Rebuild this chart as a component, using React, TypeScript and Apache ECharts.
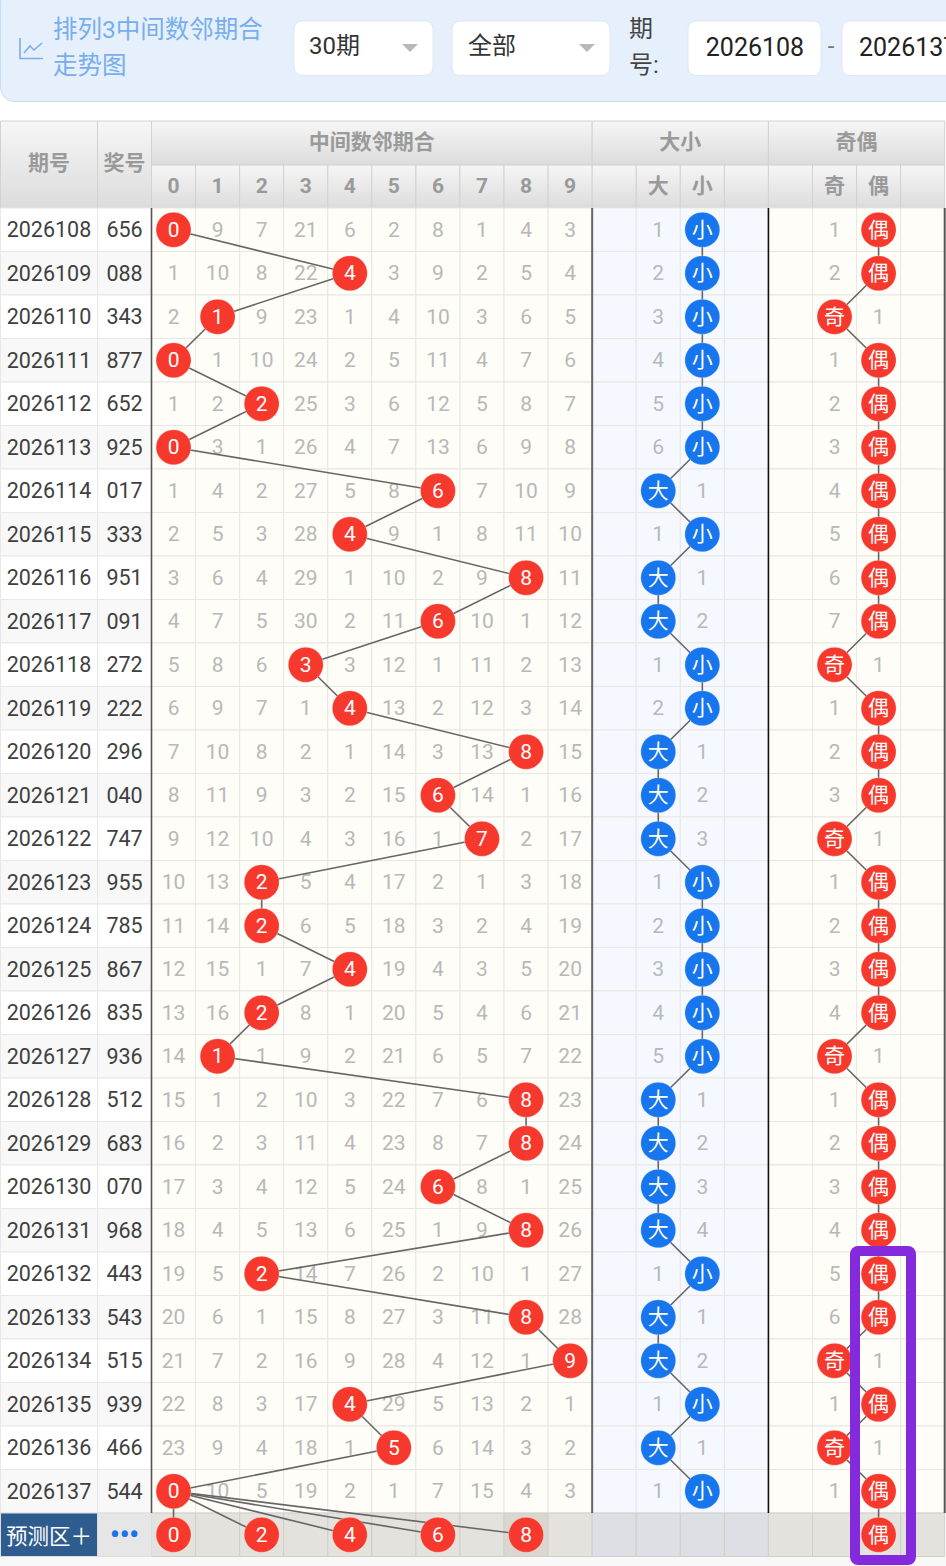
import React, { useEffect, useRef } from "react";
import * as echarts from "echarts";

const periods = ["2026108","2026109","2026110","2026111","2026112","2026113","2026114","2026115","2026116","2026117","2026118","2026119","2026120","2026121","2026122","2026123","2026124","2026125","2026126","2026127","2026128","2026129","2026130","2026131","2026132","2026133","2026134","2026135","2026136","2026137"];
const awards = ["656","088","343","877","652","925","017","333","951","091","272","222","296","040","747","955","785","867","835","936","512","683","070","968","443","543","515","939","466","544"];
const hitDigits = [0,4,1,0,2,0,6,4,8,6,3,4,8,6,7,2,2,4,2,1,8,8,6,8,2,8,9,4,5,0];
const missRows = [
  [0,9,7,21,6,2,8,1,4,3],[1,10,8,22,0,3,9,2,5,4],[2,0,9,23,1,4,10,3,6,5],[0,1,10,24,2,5,11,4,7,6],
  [1,2,0,25,3,6,12,5,8,7],[0,3,1,26,4,7,13,6,9,8],[1,4,2,27,5,8,0,7,10,9],[2,5,3,28,0,9,1,8,11,10],
  [3,6,4,29,1,10,2,9,0,11],[4,7,5,30,2,11,0,10,1,12],[5,8,6,0,3,12,1,11,2,13],[6,9,7,1,0,13,2,12,3,14],
  [7,10,8,2,1,14,3,13,0,15],[8,11,9,3,2,15,0,14,1,16],[9,12,10,4,3,16,1,0,2,17],[10,13,0,5,4,17,2,1,3,18],
  [11,14,0,6,5,18,3,2,4,19],[12,15,1,7,0,19,4,3,5,20],[13,16,0,8,1,20,5,4,6,21],[14,0,1,9,2,21,6,5,7,22],
  [15,1,2,10,3,22,7,6,0,23],[16,2,3,11,4,23,8,7,0,24],[17,3,4,12,5,24,0,8,1,25],[18,4,5,13,6,25,1,9,0,26],
  [19,5,0,14,7,26,2,10,1,27],[20,6,1,15,8,27,3,11,0,28],[21,7,2,16,9,28,4,12,1,0],[22,8,3,17,0,29,5,13,2,1],
  [23,9,4,18,1,0,6,14,3,2],[0,10,5,19,2,1,7,15,4,3],
];
const sizeHits = ["小","小","小","小","小","小","大","小","大","大","小","小","大","大","大","小","小","小","小","小","大","大","大","大","小","大","大","小","大","小"];
const sizeMiss = [1,2,3,4,5,6,1,1,1,2,1,2,1,2,3,1,2,3,4,5,1,2,3,4,1,1,2,1,1,1];
const parityHits = ["偶","偶","奇","偶","偶","偶","偶","偶","偶","偶","奇","偶","偶","偶","奇","偶","偶","偶","偶","奇","偶","偶","偶","偶","偶","偶","奇","偶","奇","偶"];
const parityMiss = [1,2,1,1,2,3,4,5,6,7,1,1,2,3,1,1,2,3,4,1,1,2,3,4,5,6,1,1,1,1];
const predictedDigits = [0,2,4,6,8];
const predictedParity = "偶";
const columnLabels = ["0","1","2","3","4","5","6","7","8","9","","大","小","","","奇","偶",""];

const FONT = "Roboto, 'Noto Sans CJK SC', sans-serif";
const CJK = "'Noto Sans CJK SC', Roboto, sans-serif";
const GX = 151.5, GY = 208, GW = 793.2, GH = 1348.5;
const RED = "#f7382c", BLUE = "#1776ee";
const SIZE_COL: any = { "大": 11, "小": 12 };
const PARITY_COL: any = { "奇": 15, "偶": 16 };
const PRED_ROW = periods.length;

const grayGrad = () => new echarts.graphic.LinearGradient(0, 0, 0, 1, [
  { offset: 0, color: "#f6f6f6" }, { offset: 1, color: "#dcdcdc" },
]);

function headerGraphics() {
  const els: any[] = [];
  const cw = GW / 18;
  const cell = (x: number, y: number, w: number, h: number, text?: string) => {
    els.push({ type: "rect", z: -1, shape: { x, y, width: w, height: h }, style: { fill: grayGrad(), stroke: "#d2d2d2", lineWidth: 1 } });
    if (text) els.push({ type: "text", z: 1, style: { text, x: x + w / 2, y: y + h / 2 - 3.5, align: "center", verticalAlign: "middle", fill: "#9a9a9a", font: `bold 21px ${CJK}` } });
  };
  cell(0.5, 121, 97, 87, "期号");
  cell(97.5, 121, 54, 87, "奖号");
  cell(GX, 121, cw * 10, 44, "中间数邻期合");
  cell(GX + cw * 10, 121, cw * 4, 44, "大小");
  cell(GX + cw * 14, 121, cw * 4, 44, "奇偶");
  for (let i = 0; i < 18; i++) cell(GX + cw * i, 165, cw, 43);
  return els;
}

function toolbarGraphics() {
  const blue = "#78aeec";
  const box = (x: number, w: number) => ({ type: "rect", shape: { x, y: 21, width: w, height: 54.5, r: 8 }, style: { fill: "#fff", stroke: "#dfe7f1", lineWidth: 1 } });
  const t = (text: string, x: number, y: number, fill: string, size: number, align = "left") => ({ type: "text", style: { text, x, y, fill, align, verticalAlign: "middle", font: `${size}px ${FONT}` } });
  const tri = (x: number) => ({ type: "polygon", shape: { points: [[x, 44], [x + 16, 44], [x + 8, 52]] }, style: { fill: "#b8b8b8" } });
  return [
    { type: "rect", shape: { x: 0.5, y: -12, width: 960, height: 113.5, r: 14 }, style: { fill: "#e6f0fd", stroke: "#cadcf2", lineWidth: 1 } },
    { type: "polyline", shape: { points: [[20, 38], [20, 58.5], [43, 58.5]] }, style: { stroke: blue, fill: "none", lineWidth: 1.6 } },
    { type: "polyline", shape: { points: [[24, 53], [30, 46], [34, 50], [42, 43]] }, style: { stroke: blue, fill: "none", lineWidth: 1.6 } },
    t("排列3中间数邻期合", 53, 29, blue, 24.5),
    t("走势图", 53, 65, blue, 24.5),
    box(294, 139), t("30期", 309, 46, "#333", 24), tri(402),
    box(452, 158), t("全部", 468, 46, "#333", 24), tri(579),
    t("期", 629, 29, "#444", 24), t("号:", 629, 65, "#444", 24),
    box(688, 133), t("2026108", 755, 47, "#222", 25, "center"),
    t("-", 831, 46, "#777", 24, "center"),
    { ...box(842, 130) }, t("2026137", 859, 47, "#222", 25),
  ];
}

export default function App() {
  const ref = useRef<HTMLDivElement>(null);
  useEffect(() => {
    const chart = echarts.init(ref.current!, undefined, { renderer: "svg" });

    const cells: number[][] = [];
    for (let r = 0; r <= PRED_ROW; r++) for (let c = 0; c < 18; c++) cells.push([c, r]);

    const missData: any[] = [];
    missRows.forEach((vals, r) => vals.forEach((v, c) => { if (v !== 0) missData.push([c, r, v]); }));
    sizeHits.forEach((h, r) => missData.push([h === "大" ? 12 : 11, r, sizeMiss[r]]));
    parityHits.forEach((h, r) => missData.push([h === "奇" ? 16 : 15, r, parityMiss[r]]));

    const digitTrail = hitDigits.map((d, r) => [d, r]);
    const sizeTrail = sizeHits.map((h, r) => [SIZE_COL[h], r]);
    const parityTrail = [...parityHits, predictedParity].map((h, r) => [PARITY_COL[h], r]);
    const lineSeries = (data: number[][]) => ({
      type: "line", data, z: 3, symbol: "none", showSymbol: false, clip: false, silent: true,
      lineStyle: { color: "#666", width: 1.6 },
    });
    const ball = (data: any[], color: string, size: number) => ({
      type: "scatter", data, z: 4, symbolSize: 35, clip: false, silent: true,
      itemStyle: { color, opacity: 1, borderColor: "rgba(255,255,255,0.5)", borderWidth: 0.6 },
      label: { show: true, position: "inside", formatter: (p: any) => String(p.value[2]), color: "#fff", fontSize: size, fontFamily: FONT },
    });

    const sectionEdges = [
      { col: 0, color: "#555", width: 1.6 }, { col: 10, color: "#666", width: 2 },
      { col: 14, color: "#111", width: 1.6 }, { col: 18, color: "#555", width: 2 },
    ];

    chart.setOption({
      animation: false,
      backgroundColor: "#ffffff",
      grid: { left: GX, top: GY, width: GW, height: GH, containLabel: false, outerBoundsMode: "none", show: false },
      xAxis: {
        type: "category", position: "top", data: columnLabels, z: 5,
        axisLine: { show: false }, axisTick: { show: false }, splitLine: { show: false },
        axisLabel: { interval: 0, margin: 22, verticalAlign: "middle", color: "#9a9a9a", fontWeight: "bold", fontSize: 21, fontFamily: FONT },
      },
      yAxis: [
        {
          type: "category", inverse: true, position: "left", z: 5,
          data: [...periods, { value: "预测区＋", textStyle: { color: "#fff", fontFamily: CJK, align: "center", fontSize: 21.5 } }],
          axisLine: { show: false }, axisTick: { show: false }, splitLine: { show: false },
          axisLabel: { interval: 0, margin: 102.5, align: "center", color: "#3f3f3f", fontSize: 21.5, fontFamily: FONT },
        },
        {
          type: "category", inverse: true, position: "left", z: 5,
          data: [...awards, { value: "•••", textStyle: { color: "#1e72e8", fontWeight: "bold", align: "center", fontSize: 27 } }],
          axisLine: { show: false }, axisTick: { show: false }, splitLine: { show: false },
          axisLabel: { interval: 0, margin: 27, align: "center", color: "#3f3f3f", fontSize: 21.5, fontFamily: FONT },
        },
      ],
      graphic: { elements: [
        { type: "rect", z: -2, shape: { x: 0, y: 1556.7, width: 946, height: 10 }, style: { fill: "#f8f8f8" } },
        ...toolbarGraphics(),
        ...headerGraphics(),
        { type: "rect", z: 20, shape: { x: 855, y: 1251, width: 56, height: 309, r: 3 }, style: { fill: "none", stroke: "#8429dc", lineWidth: 10 } },
      ] },
      series: [
        {
          type: "custom", z: 0, silent: true, data: cells, encode: { x: 0, y: 1 },
          renderItem: (_: any, api: any) => {
            const c = api.value(0), r = api.value(1);
            const p = api.coord([c, r]), s = api.size([1, 1]);
            const blueBand = c >= 10 && c <= 13;
            const fill = r === PRED_ROW ? (blueBand ? "#dcdfe3" : c === 8 ? "#d9d7d0" : "#e4e2dc") : blueBand ? "#f5f9ff" : "#fffdf7";
            return { type: "rect", shape: { x: p[0] - s[0] / 2, y: p[1] - s[1] / 2, width: s[0], height: s[1] }, style: { fill, stroke: r === PRED_ROW ? "#cfcfcb" : "#e9e7e2", lineWidth: 1 } };
          },
        },
        {
          type: "custom", z: 0, silent: true, data: [...periods, "pred"].map((_, r) => [0, r]), encode: { x: 0, y: 1 }, clip: false,
          renderItem: (_: any, api: any) => {
            const r = api.value(1);
            const p = api.coord([0, r]), s = api.size([1, 1]);
            const y = p[1] - s[1] / 2;
            const pred = r === PRED_ROW;
            const even = r % 2 === 0;
            const rect = (x: number, w: number, fill: string) => ({ type: "rect", shape: { x, y, width: w, height: s[1] }, style: { fill, stroke: pred ? "#dcdcdc" : "#e8e8e8", lineWidth: 1 } });
            return { type: "group", children: [rect(0.5, 97, pred ? "#2f5c8f" : even ? "#fff" : "#f8f8f8"), rect(97.5, 54, pred ? "#e6e6e6" : even ? "#fff" : "#f8f8f8")] };
          },
        },
        {
          type: "custom", z: 1, silent: true, data: sectionEdges.map((e) => [e.col, 0]), clip: false, encode: { x: 0, y: 1 },
          renderItem: (p0: any, api: any) => {
            const e = sectionEdges[p0.dataIndex];
            const top = api.coord([0, 0]), bot = api.coord([0, PRED_ROW - 1]), s = api.size([1, 1]);
            const x = GX + e.col * s[0];
            return { type: "line", shape: { x1: x, y1: top[1] - s[1] / 2, x2: x, y2: bot[1] + s[1] / 2 }, style: { stroke: e.color, lineWidth: e.width } };
          },
        },
        {
          type: "custom", z: 2, silent: true, data: missData, encode: { x: 0, y: 1 },
          renderItem: (_: any, api: any) => {
            const p = api.coord([api.value(0), api.value(1)]);
            return { type: "text", style: { text: String(api.value(2)), x: p[0], y: p[1], align: "center", verticalAlign: "middle", fill: "#b8b8b8", font: `21px ${FONT}` } };
          },
        },
        lineSeries(digitTrail),
        ...predictedDigits.map((d) => lineSeries([[hitDigits[hitDigits.length - 1], PRED_ROW - 1], [d, PRED_ROW]])),
        lineSeries(sizeTrail),
        lineSeries(parityTrail),
        ball([...hitDigits.map((d, r) => [d, r, d]), ...predictedDigits.map((d) => [d, PRED_ROW, d])], RED, 21),
        ball(sizeHits.map((h, r) => [SIZE_COL[h], r, h]), BLUE, 21),
        ball([...parityHits, predictedParity].map((h, r) => [PARITY_COL[h], r, h]), RED, 21),
      ],
    });
    return () => chart.dispose();
  }, []);
  return <div ref={ref} style={{ position: "absolute", left: 0, top: 0, width: 946, height: 1566, overflow: "hidden" }} />;
}
